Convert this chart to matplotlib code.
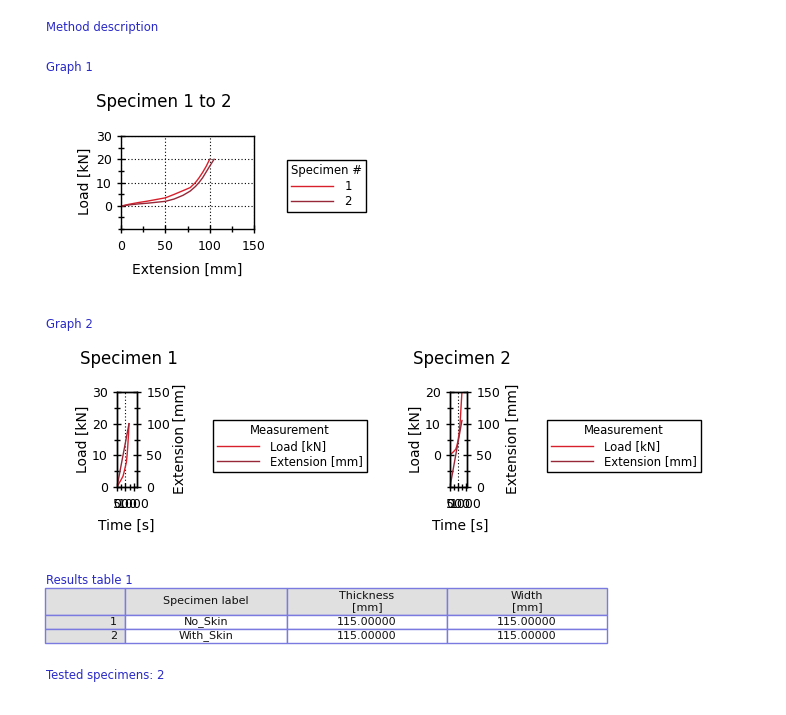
import matplotlib
matplotlib.use('Agg')
import matplotlib.pyplot as plt
from matplotlib.ticker import FixedLocator, MultipleLocator

plt.rcParams['font.family'] = ['DejaVu Sans']

# ---------------- data ----------------
specimens = ['1', '2']
spec_names = ['No_Skin', 'With_Skin']
thickness = ['115.00000', '115.00000']
width_vals = ['115.00000', '115.00000']

ext1 = [0, 5, 10, 20, 30, 40, 50, 60, 70, 78, 84, 88, 92, 96, 100]
load1 = [-0.2, 0.3, 0.7, 1.4, 2.0, 2.7, 3.4, 4.9, 6.5, 7.8, 10.0, 12.0, 14.3, 16.9, 20.0]
time1 = [0, 36, 71, 142, 213, 284, 355, 426, 497, 554, 596, 625, 653, 682, 710]

ext2 = [0, 10, 20, 30, 40, 50, 60, 70, 78, 84, 88, 92, 96, 100, 105]
load2 = [-0.2, 0.4, 0.8, 1.1, 1.5, 1.9, 2.9, 4.5, 6.3, 8.3, 10.0, 12.0, 14.5, 17.0, 20.0]
time2 = [0, 71, 142, 213, 284, 355, 426, 497, 553, 596, 624, 653, 681, 710, 745]

table_header = ['', 'Specimen label', 'Thickness\n[mm]', 'Width\n[mm]']

# ---------------- layout helpers ----------------
W, H = 786, 715
fig = plt.figure(figsize=(W / 100, H / 100), dpi=100)
fig.patch.set_facecolor('white')


def fx(px):
    return px / W


def fy(py):
    return 1 - py / H


def axrect(l, t, r, b):
    return [fx(l), fy(b), (r - l) / W, (b - t) / H]


BLUE = '#2a2ac8'
RED = '#d8202c'
DARK = '#962838'
TICK_FS = 9
LAB_FS = 10
TITLE_FS = 12
LEG_FS = 8.4


def style(ax, xpad=5, ypad=3.5):
    for s in ax.spines.values():
        s.set_linewidth(1.0)
        s.set_color('black')
    ax.tick_params(which='both', direction='inout', labelsize=TICK_FS, colors='black')
    ax.tick_params(which='major', length=6, width=1)
    ax.tick_params(which='minor', length=5, width=1)
    ax.tick_params(axis='x', pad=xpad)
    ax.tick_params(axis='y', pad=ypad)


def label(x, y, s, size=LAB_FS, rot=0, ha='center', color='black'):
    fig.text(fx(x), fy(y), s, fontsize=size, rotation=rot, ha=ha, va='center', color=color)


# ---------------- header texts ----------------
label(46, 28, 'Method description', size=8.4, ha='left', color=BLUE)
label(46, 67, 'Graph 1', size=8.4, ha='left', color=BLUE)
label(46, 324, 'Graph 2', size=8.4, ha='left', color=BLUE)
label(46, 581, 'Results table 1', size=8.4, ha='left', color=BLUE)
label(46, 675, 'Tested specimens: 2', size=8.4, ha='left', color=BLUE)

GRID = dict(linestyle=(0, (1, 2)), color='black', linewidth=0.8)
LEG_KW = dict(frameon=True, fancybox=False, edgecolor='black', framealpha=1,
              fontsize=LEG_FS, title_fontsize=LEG_FS, handlelength=3.6,
              handletextpad=0.95, borderpad=0.35, labelspacing=0.22, borderaxespad=0)

# ---------------- Graph 1 ----------------
ax1 = fig.add_axes(axrect(121, 136, 254, 229))
style(ax1)
h1, = ax1.plot(ext1, load1, color=RED, lw=1.0)
h2, = ax1.plot(ext2, load2, color=DARK, lw=1.0)
ax1.set_xlim(0, 150)
ax1.set_ylim(-10, 30)
ax1.xaxis.set_major_locator(FixedLocator([0, 50, 100, 150]))
ax1.xaxis.set_minor_locator(MultipleLocator(25))
ax1.yaxis.set_major_locator(FixedLocator([0, 10, 20, 30]))
ax1.yaxis.set_minor_locator(MultipleLocator(5))
ax1.grid(True, which='major', **GRID)
label(96, 102, 'Specimen 1 to 2', size=TITLE_FS, ha='left')
label(85, 181, 'Load [kN]', rot=90)
label(187, 270, 'Extension [mm]')

leg1 = fig.legend([h1, h2], specimens, title='Specimen #', loc='upper left',
                  bbox_to_anchor=(fx(287), fy(160)), alignment='left', **LEG_KW)
leg1.get_frame().set_linewidth(1.0)


# ---------------- Graph 2 ----------------
def spec_graph(rect, t, ld, ex, ylim_load, yt_load, xmax, title, tx, lx_load, lx_ext, lx_time, leg_x):
    ax = fig.add_axes(axrect(*rect))
    style(ax)
    hl, = ax.plot(t, ld, color=RED, lw=1.0)
    ax.set_xlim(0, xmax)
    ax.set_ylim(*ylim_load)
    ax.xaxis.set_major_locator(FixedLocator([0, 500, 1000]))
    ax.xaxis.set_minor_locator(MultipleLocator(250))
    ax.yaxis.set_major_locator(FixedLocator(yt_load))
    ax.yaxis.set_minor_locator(MultipleLocator(5))
    ax.grid(True, which='major', axis='x', **GRID)
    for gl, tk in zip(ax.get_xgridlines(), ax.get_xticks()):
        gl.set_visible(tk == 500)
    axr = ax.twinx()
    style(axr)
    he, = axr.plot(t, ex, color=DARK, lw=1.0)
    axr.set_ylim(0, 150)
    axr.yaxis.set_major_locator(FixedLocator([0, 50, 100, 150]))
    axr.yaxis.set_minor_locator(MultipleLocator(25))
    label(tx, 359, title, size=TITLE_FS, ha='left')
    label(lx_load, 439, 'Load [kN]', rot=90)
    label(lx_ext, 439, 'Extension [mm]', rot=90)
    label(lx_time, 526, 'Time [s]')
    lg = fig.legend([hl, he], ['Load [kN]', 'Extension [mm]'], title='Measurement',
                    loc='upper left', bbox_to_anchor=(fx(leg_x), fy(420)),
                    alignment='center', **LEG_KW)
    lg.get_frame().set_linewidth(1.0)


spec_graph((117, 392, 137.3, 487), time1, load1, ext1, (0, 30), [0, 10, 20, 30], 1200,
           'Specimen 1', 80, 83, 180, 126, 213)
spec_graph((450, 392, 467.3, 487), time2, load2, ext2, (-10, 20), [0, 10, 20], 1080,
           'Specimen 2', 413, 416, 513, 460, 547)

# ---------------- Results table ----------------
axt = fig.add_axes(axrect(45, 588, 607, 643))
axt.axis('off')
rows = [table_header] + [[s, n, th, wd] for s, n, th, wd in zip(specimens, spec_names, thickness, width_vals)]
col_px = [80, 162, 160, 160]
tbl = axt.table(cellText=rows, cellLoc='center', colWidths=[c / sum(col_px) for c in col_px],
                bbox=[0, 0, 1, 1])
tbl.auto_set_font_size(False)
tbl.set_fontsize(8)
for (r, c), cell in tbl.get_celld().items():
    cell.set_edgecolor('#7a7ae0')
    cell.set_linewidth(1.0)
    cell.set_height(27 / 55 if r == 0 else 14 / 55)
    if r == 0 or c == 0:
        cell.set_facecolor('#e0e0e0')
    else:
        cell.set_facecolor('white')
    if r > 0 and c == 0:
        cell.get_text().set_horizontalalignment('right')
    cell.get_text().set_color('#111111')

fig.savefig('out.png', dpi=100, facecolor='white')
